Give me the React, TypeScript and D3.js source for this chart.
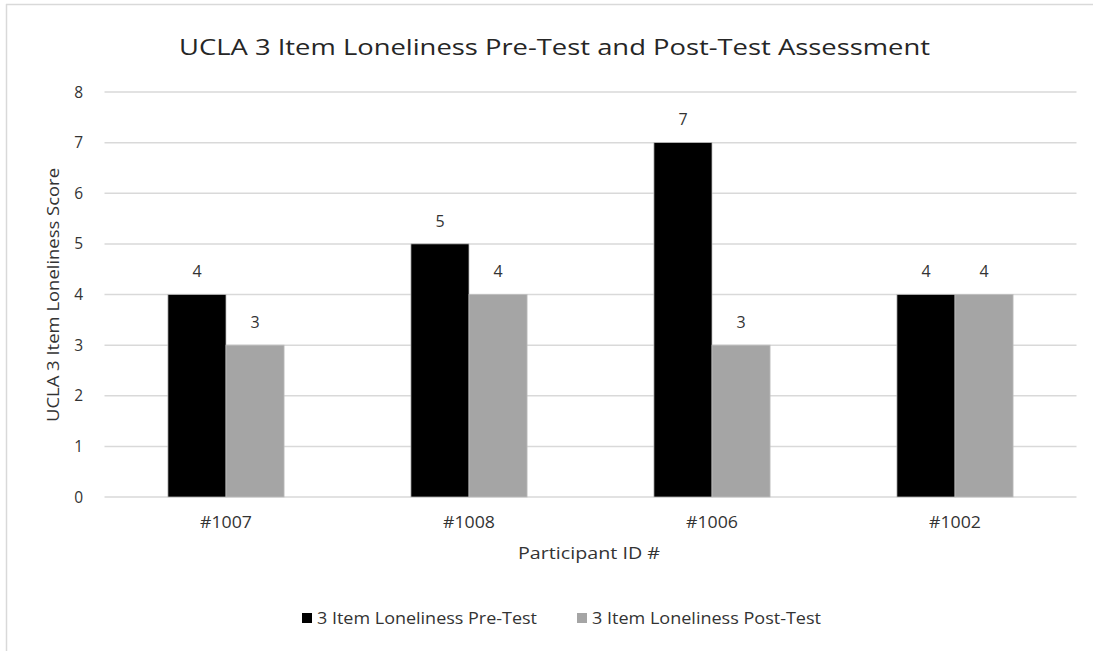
import React from "react";
import * as d3 from "d3";

const categories = ["#1007", "#1008", "#1006", "#1002"];
const preTest = [4, 5, 7, 4];
const postTest = [3, 4, 3, 4];
const seriesNames = ["3 Item Loneliness Pre-Test", "3 Item Loneliness Post-Test"];
const seriesColors = ["#000000", "#a5a5a5"];
const yTicks = [0, 1, 2, 3, 4, 5, 6, 7, 8];

const W = 1093;
const H = 651;
const FONT = "'Open Sans', 'Liberation Sans', sans-serif";
const TXT = "#333333";

export default function App() {
  const x = d3.scaleBand<string>().domain(categories).range([104.5, 1076.5]).padding(0);
  const y = d3.scaleLinear().domain([0, 8]).range([497, 92]);
  const step = x.step();
  const barW = step * 0.239;
  const series = [preTest, postTest];

  const legend = [
    { sx: 302, tx: 317, tw: 220 },
    { sx: 577, tx: 592, tw: 229 },
  ];

  return (
    <svg
      width={W}
      height={H}
      style={{ position: "absolute", left: 0, top: 0, background: "#fff" }}
      fontFamily={FONT}
      fontWeight={500}
    >
      <rect x={0} y={0} width={W} height={H} fill="#fff" />
      {/* chart frame */}
      <line x1={6} x2={W} y1={4.5} y2={4.5} stroke="#d9d9d9" strokeWidth={1.5} />
      <line x1={6.5} x2={6.5} y1={4} y2={H} stroke="#d9d9d9" strokeWidth={1.5} />

      <text
        x={554.5}
        y={55}
        textAnchor="middle"
        fontSize={22}
        fill="#262626"
        textLength={751}
        lengthAdjust="spacingAndGlyphs"
      >
        UCLA 3 Item Loneliness Pre-Test and Post-Test Assessment
      </text>

      {yTicks.map((t) => (
        <g key={t}>
          <line x1={104.5} x2={1076.5} y1={y(t)} y2={y(t)} stroke="#d9d9d9" strokeWidth={1.5} />
          <text x={83} y={y(t)} dy="0.36em" textAnchor="end" fontSize={15.5} fill={TXT}>
            {t}
          </text>
        </g>
      ))}

      {categories.map((c, i) => {
        const cx = (x(c) as number) + step / 2;
        return (
          <g key={c}>
            {series.map((s, k) => {
              const bx = cx - barW + k * barW;
              return (
                <g key={k}>
                  <rect
                    x={bx}
                    y={y(s[i])}
                    width={barW}
                    height={y(0) - y(s[i])}
                    fill={seriesColors[k]}
                    stroke="#bfbfbf"
                    strokeWidth={0.75}
                  />
                  <text
                    x={bx + barW / 2}
                    y={y(s[i]) - 23}
                    dy="0.36em"
                    textAnchor="middle"
                    fontSize={16}
                    fill={TXT}
                  >
                    {s[i]}
                  </text>
                </g>
              );
            })}
            <text
              x={cx}
              y={522.5}
              dy="0.36em"
              textAnchor="middle"
              fontSize={15.5}
              fill={TXT}
              textLength={52}
              lengthAdjust="spacingAndGlyphs"
            >
              {c}
            </text>
          </g>
        );
      })}

      <text
        x={589}
        y={553}
        dy="0.36em"
        textAnchor="middle"
        fontSize={17}
        fill={TXT}
        textLength={142}
        lengthAdjust="spacingAndGlyphs"
      >
        Participant ID #
      </text>

      <text
        transform={`translate(53,295) rotate(-90)`}
        dy="0.36em"
        textAnchor="middle"
        fontSize={17}
        fill={TXT}
        textLength={254}
        lengthAdjust="spacingAndGlyphs"
      >
        UCLA 3 Item Loneliness Score
      </text>

      {/* legend */}
      {legend.map((l, k) => (
        <g key={k}>
          <rect x={l.sx} y={613} width={10} height={10} fill={seriesColors[k]} />
          <text
            x={l.tx}
            y={618}
            dy="0.36em"
            fontSize={16}
            fill={TXT}
            textLength={l.tw}
            lengthAdjust="spacingAndGlyphs"
          >
            {seriesNames[k]}
          </text>
        </g>
      ))}
    </svg>
  );
}
